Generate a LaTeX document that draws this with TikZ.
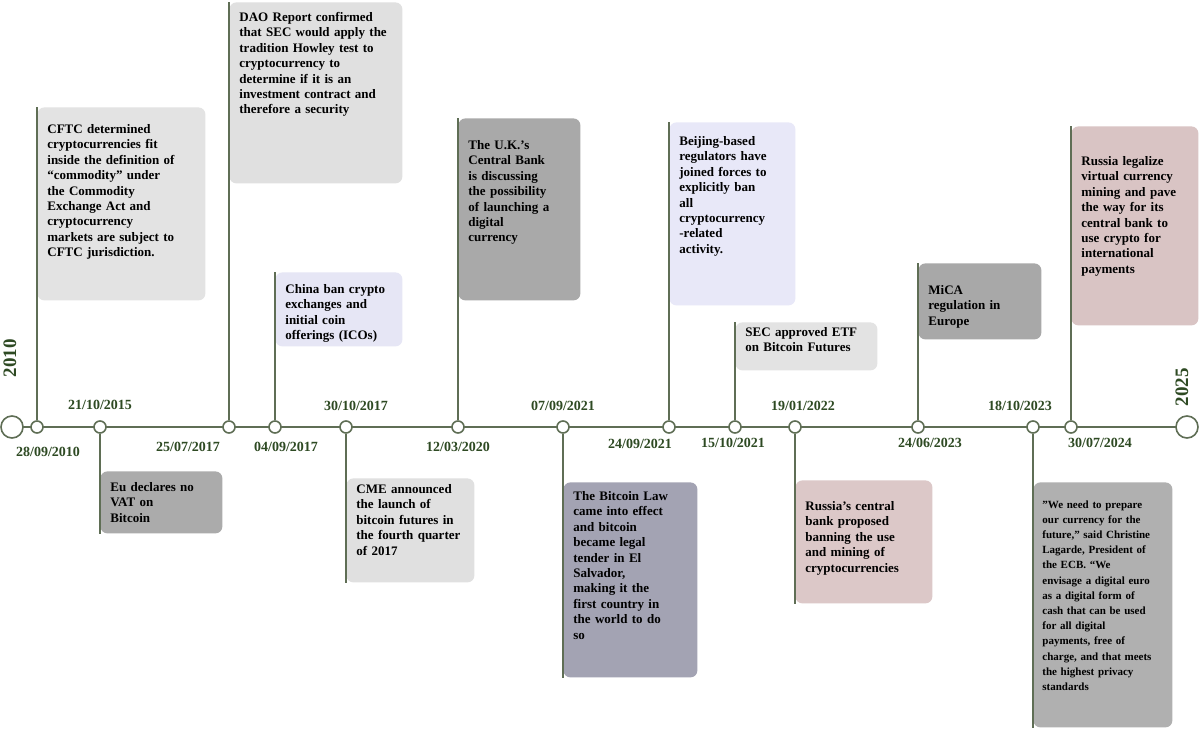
\documentclass[tikz,border=0pt]{standalone}
\usepackage{fontspec}
\setmainfont{Liberation Serif}
\definecolor{lcol}{HTML}{5F6E55}
\definecolor{dcol}{HTML}{2E4A23}
\definecolor{cA}{HTML}{E3E3E3}
\definecolor{cB}{HTML}{E0E0E0}
\definecolor{cC}{HTML}{E6E6F5}
\definecolor{cD}{HTML}{A9A9A9}
\definecolor{cE}{HTML}{E8E8F8}
\definecolor{cF}{HTML}{A8A8A8}
\definecolor{cG}{HTML}{D9C4C4}
\definecolor{cH}{HTML}{ABABAB}
\definecolor{cI}{HTML}{A3A3B3}
\definecolor{cJ}{HTML}{DCC8C8}
\definecolor{cK}{HTML}{B0B0B0}
\begin{document}
\begin{tikzpicture}[x=0.5pt,y=-0.5pt,
  ln/.style={draw=lcol, line width=0.9pt},
  dot/.style={circle, draw=lcol, fill=white, line width=0.8pt, minimum size=6pt, inner sep=0pt},
  big/.style={circle, draw=lcol, fill=white, line width=0.8pt, minimum size=11pt, inner sep=0pt},
  dt/.style={font=\bfseries\fontsize{7}{8}\selectfont, text=dcol, inner sep=0pt},
  yr/.style={font=\bfseries\fontsize{9.5}{10}\selectfont, text=dcol, rotate=90, inner sep=0pt},
  bx/.style={rounded corners=3.5pt, inner sep=0pt, anchor=north west},
  tx/.style={anchor=north west, inner sep=0pt, align=left, font=\bfseries\fontsize{6.5}{7.7}\selectfont}]
\useasboundingbox[fill=white] (0,0) rectangle (1200,729);
\draw[ln] (12,427) -- (1187,427);
\node[big] (s) at (12,427) {};
\node[big] (e) at (1187,427) {};
\node[yr] (y1) at (10,358) {2010};
\node[yr] (y2) at (1182,387) {2025};
\newcommand{\ebox}[8]{%
  \node[bx, fill=#6, minimum width=#4*0.5pt, minimum height=#5*0.5pt] (#1) at (#2,#3) {};
  \node[tx, text width=(#4-20)*0.5pt] (#1t) at (#2+10,#3+#7) {#8};}
\ebox{b1}{37}{107}{168}{193}{cA}{17}{CFTC determined\\cryptocurrencies fit\\inside the definition of\\“commodity” under\\the Commodity\\Exchange Act and\\cryptocurrency\\markets are subject to\\CFTC jurisdiction.}
\ebox{b2}{229}{2}{173}{181}{cB}{10}{DAO Report confirmed\\that SEC would apply the\\tradition Howley test to\\cryptocurrency to\\determine if it is an\\investment contract and\\therefore a security}
\ebox{b3}{275}{272}{127}{74}{cC}{12}{China ban crypto\\exchanges and\\initial coin\\offerings (ICOs)}
\ebox{b4}{458}{118}{122}{182}{cD}{22}{The U.K.’s\\Central Bank\\is discussing\\the possibility\\of launching a\\digital\\currency}
\ebox{b5}{669}{122}{126}{183}{cE}{14}{Beijing-based\\regulators have\\joined forces to\\explicitly ban\\all\\cryptocurrency\\-related\\activity.}
\ebox{b6}{735}{322}{142}{48}{cA}{5}{SEC approved ETF\\on Bitcoin Futures}
\ebox{b7}{918}{263}{123}{76}{cF}{22}{MiCA\\regulation in\\Europe}
\ebox{b8}{1071}{126}{127}{199}{cG}{30}{Russia legalize\\virtual currency\\mining and pave\\the way for its\\central bank to\\use crypto for\\international\\payments}
\ebox{b9}{100}{471}{122}{62}{cH}{11}{Eu declares no\\VAT on\\Bitcoin}
\ebox{b10}{346}{478}{128}{104}{cB}{6}{CME announced\\the launch of\\bitcoin futures in\\the fourth quarter\\of 2017}
\ebox{b11}{563}{482}{134}{195}{cI}{9}{The Bitcoin Law\\came into effect\\and bitcoin\\became legal\\tender in El\\Salvador,\\making it the\\first country in\\the world to do\\so}
\ebox{b12}{795}{480}{137}{123}{cJ}{21}{Russia's central\\bank proposed\\banning the use\\and mining of\\cryptocurrencies}
\node[bx, fill=cK, minimum width=69.5pt, minimum height=122.5pt] (b13) at (1033,482) {};
\node[tx, text width=62pt, font=\bfseries\fontsize{5.5}{7.6}\selectfont] (b13t) at (1042,500) {"We need to prepare\\our currency for the\\future," said Christine\\Lagarde, President of\\the ECB. “We\\envisage a digital euro\\as a digital form of\\cash that can be used\\for all digital\\payments, free of\\charge, and that meets\\the highest privacy\\standards};
\foreach \n/\x in {1/37,2/100,3/229,4/275,5/346,6/458,7/563,8/669,9/735,10/795,11/918,12/1033,13/1071}
  \node[dot] (p\n) at (\x,427) {};
\foreach \n/\b in {1/b1,3/b2,4/b3,6/b4,8/b5,9/b6,11/b7,13/b8}
  \draw[ln] (p\n.north) -- (\b.north west);
\foreach \n/\b in {2/b9,5/b10,7/b11,10/b12,12/b13}
  \draw[ln] (p\n.south) -- (\b.south west);
\node[dt] (d2) at (100,405) {21/10/2015};
\node[dt] (d5) at (356,406) {30/10/2017};
\node[dt] (d7) at (563,406) {07/09/2021};
\node[dt] (d10) at (803,406) {19/01/2022};
\node[dt] (d12) at (1020,406) {18/10/2023};
\node[dt] (d1) at (48,452) {28/09/2010};
\node[dt] (d3) at (188,447) {25/07/2017};
\node[dt] (d4) at (286,447) {04/09/2017};
\node[dt] (d6) at (458,447) {12/03/2020};
\node[dt] (d8) at (640,444) {24/09/2021};
\node[dt] (d9) at (733,443) {15/10/2021};
\node[dt] (d11) at (930,443) {24/06/2023};
\node[dt] (d13) at (1100,443) {30/07/2024};
\end{tikzpicture}
\end{document}
